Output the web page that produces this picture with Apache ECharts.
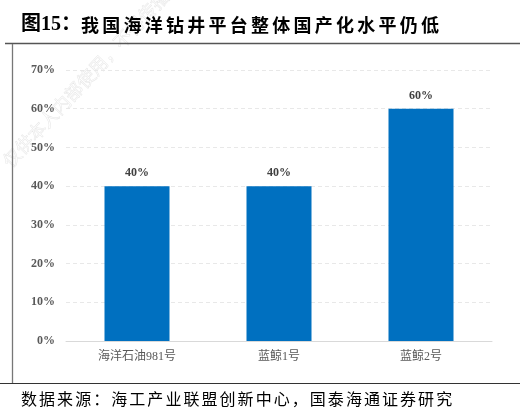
<!DOCTYPE html>
<html><head><meta charset="utf-8">
<script src="https://cdn.jsdelivr.net/npm/echarts@6/dist/echarts.min.js"></script>
<style>html,body{margin:0;padding:0;background:#fff}#c{width:524px;height:413px}</style>
</head><body><div id="c"></div>
<script>
const categories = ['海洋石油981号', '蓝鲸1号', '蓝鲸2号'];
const values = [40, 40, 60];
const yTicks = [0, 10, 20, 30, 40, 50, 60, 70];
const titlePrefix = '图15：';
const titleText = '我国海洋钻井平台整体国产化水平仍低';
const sourceText = '数据来源：海工产业联盟创新中心，国泰海通证券研究';
const watermarkText = '仅供本人内部使用，不得传播';

function spaced(str, x0, y, step, font, fill) {
  return str.split('').map((ch, i) => ({
    type: 'text', x: x0 + i * step, y: y,
    style: {text: ch, font: font, fill: fill, textVerticalAlign: 'top'}
  }));
}

const graphics = [].concat(
  [{type: 'text', x: 21, y: 15, style: {text: titlePrefix, font: 'bold 20px "Liberation Serif","Noto Sans CJK SC"', fill: '#000', textVerticalAlign: 'top'}}],
  spaced(titleText, 81, 16, 21.25, '600 18px "Noto Sans CJK SC"', '#000'),
  spaced(sourceText, 21, 391, 18.05, '16px "Noto Sans CJK SC"', '#000'),
  [
    {type: 'text', x: 6, y: 164, rotation: Math.PI * 47 / 180, z: -1,
     style: {text: watermarkText, font: '18px "Noto Sans CJK SC"', fill: 'rgba(0,0,0,0)', stroke: '#e6e6e6', lineWidth: 0.5, textVerticalAlign: 'middle'}},
    {type: 'line', shape: {x1: 5, y1: 43.5, x2: 520, y2: 43.5}, style: {stroke: '#555', lineWidth: 1.3}},
    {type: 'line', shape: {x1: 12.5, y1: 44, x2: 12.5, y2: 383}, style: {stroke: '#777', lineWidth: 1.3}},
    {type: 'line', shape: {x1: 0, y1: 383.5, x2: 520, y2: 383.5}, style: {stroke: '#333', lineWidth: 1.2}}
  ]
);

const chart = echarts.init(document.getElementById('c'), null, {renderer: 'canvas'});
chart.setOption({
  backgroundColor: '#fff',
  animation: false,
  grid: {left: 66, right: 32, top: 70, bottom: 72},
  graphic: graphics,
  xAxis: {
    type: 'category',
    data: categories,
    axisLine: {lineStyle: {color: '#d9d9d9', width: 1}},
    axisTick: {show: false},
    axisLabel: {color: '#595959', fontSize: 12, margin: 10, fontFamily: '"Liberation Serif","Noto Sans CJK SC"'}
  },
  yAxis: {
    type: 'value',
    min: 0, max: 70, interval: 10,
    axisLine: {show: false},
    axisTick: {show: false},
    splitLine: {lineStyle: {color: '#e8e8e8', type: [4, 3], width: 1}},
    axisLabel: {color: '#595959', fontSize: 12, fontWeight: 'bold', margin: 11, fontFamily: '"Liberation Serif"', formatter: v => yTicks.includes(v) ? v + '%' : ''}
  },
  series: [{
    type: 'bar',
    data: values,
    barWidth: 65,
    itemStyle: {color: '#0070C0'},
    label: {show: true, position: 'top', distance: 7, formatter: p => p.value + '%', color: '#404040', fontSize: 12, fontWeight: 'bold', fontFamily: '"Liberation Serif"'}
  }]
});
</script></body></html>
